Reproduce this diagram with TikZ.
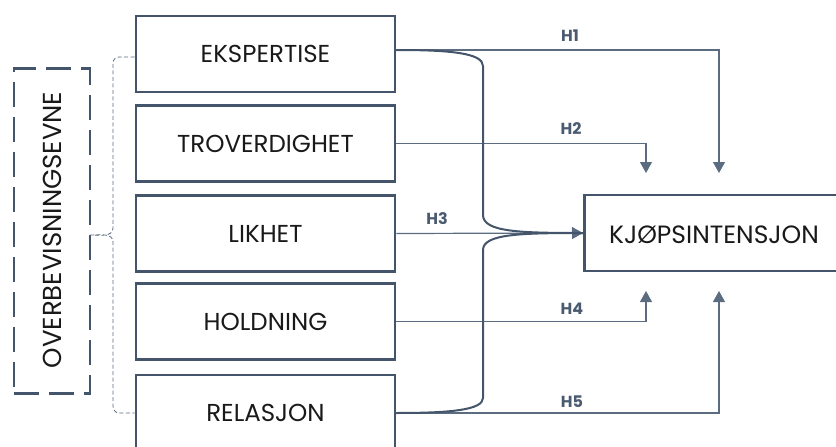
\documentclass[tikz,border=0pt]{standalone}
\usepackage{fontspec}
\setmainfont{Poppins}
\usetikzlibrary{arrows.meta,calc}
\definecolor{boxc}{HTML}{44546A}
\definecolor{linec}{HTML}{5B6B80}
\definecolor{labc}{HTML}{4A5A70}
\begin{document}
\begin{tikzpicture}[x=1pt,y=-1pt,
  factor/.style={draw=boxc,line width=2.6pt,minimum width=259pt,minimum height=76pt,inner sep=0pt,font=\fontsize{24.5}{28}\selectfont,text=black!90},
  hline/.style={draw=linec,line width=1.2pt,-{Triangle[width=12pt,length=11pt]}},
  curv/.style={draw=boxc,line width=2pt},
  hlab/.style={font=\bfseries\fontsize{16}{18}\selectfont,text=labc,inner sep=0pt}]
\useasboundingbox (0,0) rectangle (836,447);
\node[factor] (eks) at (265.5,54) {\raisebox{-3pt}{EKSPERTISE}};
\node[factor] (tro) at (265.5,143.5) {TROVERDIGHET};
\node[factor] (lik) at (265.5,233.5) {LIKHET};
\node[factor] (hol) at (265.5,321.5) {HOLDNING};
\node[factor] (rel) at (265.5,413) {RELASJON};
\node[draw=boxc,line width=2.6pt,minimum width=290pt,minimum height=76pt,inner sep=0pt,anchor=west] (kj) at (583,233) {};
\node[font=\fontsize{25}{28}\selectfont,text=black!90] (kjt) at (714,235) {KJØPSINTENSJON};
% dashed group box
\node[draw=boxc,line width=2.6pt,dash pattern=on 25pt off 10pt,minimum width=76pt,minimum height=325pt,inner sep=0pt] (grp) at (52,231) {};
\node[rotate=90,font=\fontsize{26}{28}\selectfont,text=black!90] (grpt) at (52,230) {OVERBEVISNINGSEVNE};
% bracket
\coordinate (btip) at (90,235);
\draw[draw=linec,line width=0.8pt,dash pattern=on 4pt off 2.5pt]
  (eks.west |- 0,57) -- (119,57) to[out=180,in=90] (113,63) -- (113,228) to[out=-90,in=0] (btip)
  (btip) to[out=0,in=90] (113,242) -- (113,406) to[out=-90,in=180] (119,413) -- (rel.west);
% coordinates for connectors
\coordinate (eksE) at ($(eks.east)+(0,-4)$);
\coordinate (k1t) at (719,173);
\coordinate (k2t) at (646,173);
\coordinate (k4t) at (646,291);
\coordinate (k5t) at (719,291);
% H lines
\draw[hline] (eksE) -| (k1t);
\draw[hline] (tro.east) -| (k2t);
\draw[hline] (lik.east) -- (kj.west);
\draw[hline] (hol.east) -| (k4t);
\draw[hline] (rel.east) -| (k5t);
% curves
\draw[curv] (eksE) .. controls (450,50) and (483,53) .. (483,66) -- (483,215) .. controls (483,232) and (520,233) .. (kj.west);
\draw[curv] (rel.east) .. controls (450,413) and (483,410) .. (483,398) -- (483,250) .. controls (483,234) and (520,233) .. (kj.west);
% labels
\node[hlab] (h1) at (570,36) {H1};
\node[hlab] (h2) at (571,129) {H2};
\node[hlab] (h3) at (437,219) {H3};
\node[hlab] (h4) at (572,309) {H4};
\node[hlab] (h5) at (572,402) {H5};
\end{tikzpicture}
\end{document}
